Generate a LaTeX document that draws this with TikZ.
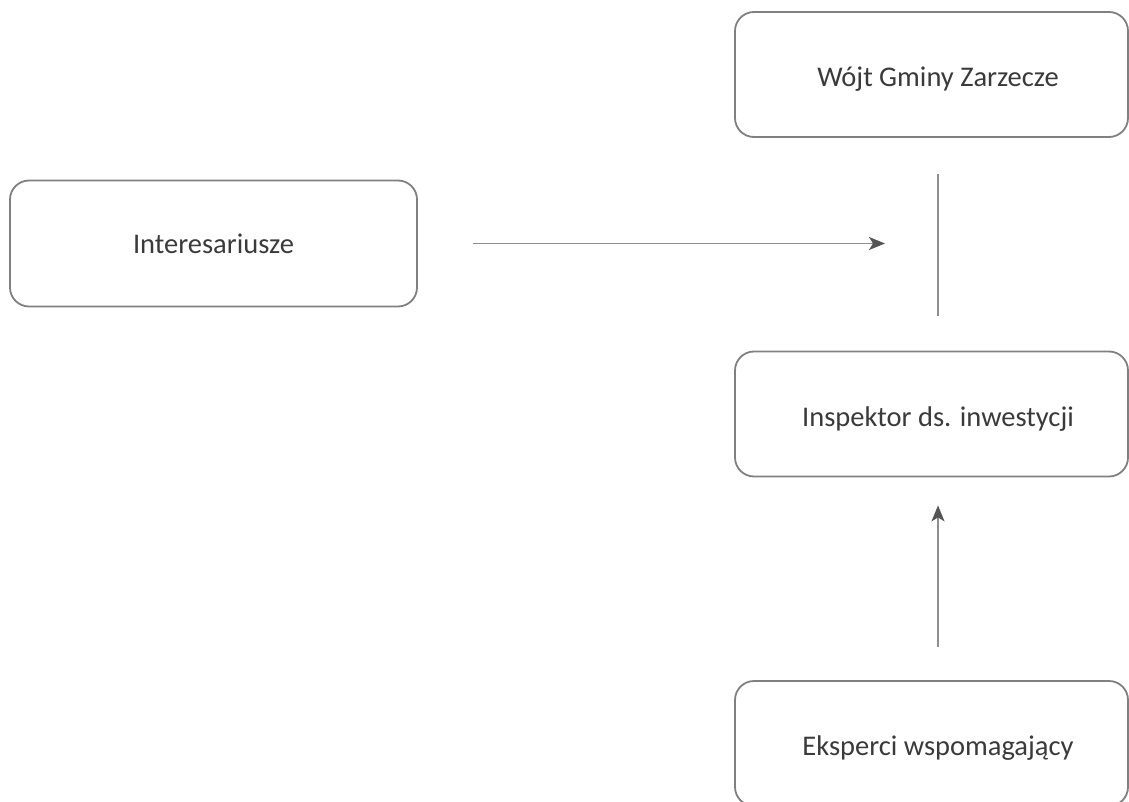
\documentclass[tikz,border=0pt]{standalone}
\usepackage{fontspec}
\setmainfont{Carlito}
\usetikzlibrary{arrows.meta}
\definecolor{boxline}{HTML}{808080}
\definecolor{txt}{HTML}{3A3A3A}
\definecolor{conn}{HTML}{8E8E8E}
\definecolor{tip}{HTML}{555555}
\newcommand{\rtext}[1]{\hspace*{13pt}\raisebox{-5pt}[\height][\depth]{#1}}
\tikzset{
  box/.style={draw=boxline, line width=1.8pt, rounded corners=19pt, rectangle,
    minimum width=393pt, minimum height=125pt, inner sep=0pt,
    font=\fontsize{28.5pt}{32pt}\selectfont, text=txt},
  conline/.style={draw=conn, line width=1.8pt},
  conarrow/.style={conline, -{Stealth[length=16pt,width=13pt,inset=4pt,color=tip]}}
}
\begin{document}
\begin{tikzpicture}[x=1pt,y=-1pt]
\useasboundingbox (0,0) rectangle (1129,802);
\node[box] (wojt) at (931.5,74.5) {\rtext{Wójt Gminy Zarzecze}};
\node[box, minimum width=407pt, minimum height=126pt] (inter) at (213.5,243.5) {Interesariusze};
\node[box] (insp) at (931.5,414) {\rtext{Inspektor ds. inwestycji}};
\node[box] (eksp) at (931.5,743.5) {\rtext{Eksperci wspomagający}};
\coordinate (junction) at (938,243.5);
\draw[conline] ([xshift=6.5pt,yshift=-36pt]wojt.south) -- ([xshift=6.5pt,yshift=35pt]insp.north);
\draw[conarrow] ([xshift=55pt]inter.east) -- ([xshift=-53pt]junction);
\draw[conarrow] ([xshift=6.5pt,yshift=33pt]eksp.north) -- ([xshift=6.5pt,yshift=-28pt]insp.south);
\end{tikzpicture}
\end{document}
